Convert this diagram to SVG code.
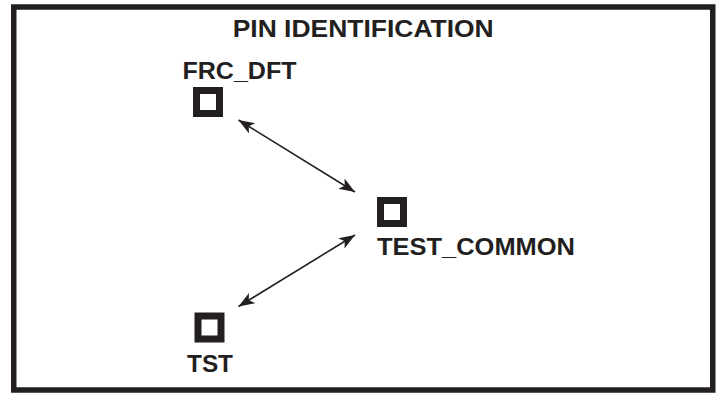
<svg xmlns="http://www.w3.org/2000/svg" width="718" height="393" viewBox="0 0 718 393">
  <style>
    .lbl { font-family: "Liberation Sans", Arial, sans-serif; font-weight: bold; font-size: 24px; fill: #231f20; }
    .pin { fill: none; stroke: #231f20; stroke-width: 7; }
    .conn { stroke: #231f20; stroke-width: 1.6; fill: none; marker-start: url(#ah); marker-end: url(#ah); }
  </style>
  <defs>
    <marker id="ah" markerUnits="userSpaceOnUse" viewBox="0 -7 17 14" refX="16" refY="0" markerWidth="17" markerHeight="14" orient="auto-start-reverse">
      <path d="M0,-6 L16,0 L0,6 L4,0 z" fill="#231f20"/>
    </marker>
  </defs>
  <rect width="718" height="393" fill="#ffffff"/>
  <rect id="frame" x="13.75" y="7" width="699" height="383" fill="none" stroke="#231f20" stroke-width="5.5"/>
  <text id="title" class="lbl" x="232.7" y="37.3" textLength="261" lengthAdjust="spacingAndGlyphs">PIN IDENTIFICATION</text>
  <g id="frc_dft">
    <rect class="pin" x="196.5" y="90.5" width="23" height="23"/>
    <text class="lbl" x="182.5" y="79" textLength="114" lengthAdjust="spacingAndGlyphs">FRC_DFT</text>
  </g>
  <g id="test_common">
    <rect class="pin" x="380.5" y="200.5" width="23" height="23"/>
    <text class="lbl" x="377" y="255" textLength="198" lengthAdjust="spacingAndGlyphs">TEST_COMMON</text>
  </g>
  <g id="tst">
    <rect class="pin" x="198" y="316" width="23" height="23"/>
    <text class="lbl" x="187" y="371.7" textLength="46" lengthAdjust="spacingAndGlyphs">TST</text>
  </g>
  <g id="connectors">
    <line class="conn" x1="238.5" y1="120" x2="355" y2="192"/>
    <line class="conn" x1="355" y1="235" x2="238.5" y2="306.5"/>
  </g>
</svg>
